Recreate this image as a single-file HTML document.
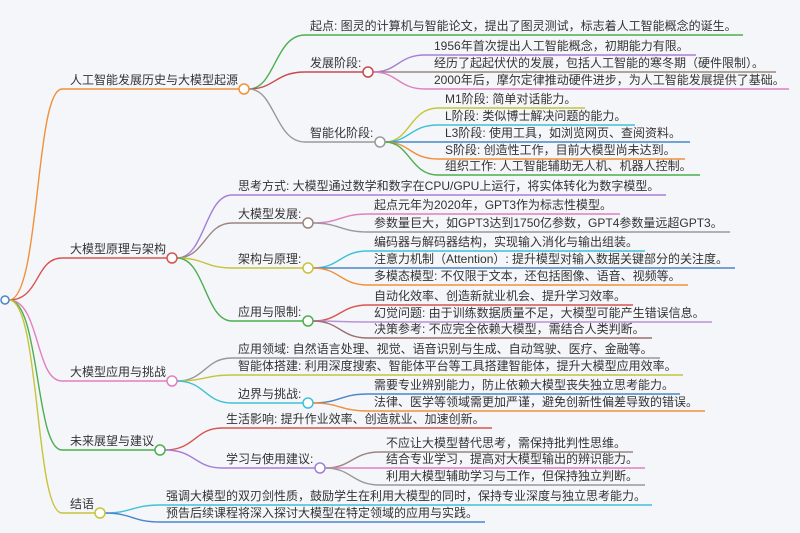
<!DOCTYPE html>
<html><head><meta charset="utf-8"><style>
html,body{margin:0;padding:0;background:#f5f6fa;}
svg{display:block}
text{font-family:"Liberation Sans","Noto Sans CJK SC",sans-serif;font-size:12px;fill:#333;}
path{fill:none;stroke-width:1.4}
circle{fill:#fff;stroke-width:1.5}
</style></head><body>
<svg width="800" height="533" viewBox="0 0 800 533">
<rect width="800" height="533" fill="#f5f6fa"/>
<!-- level1 edges -->
<path d="M9 300 C40 300,35 89,62 89 H239" stroke="#f0903a"/>
<path d="M9 300 C40 300,35 258,62 258 H167" stroke="#d9534f"/>
<path d="M9 300 C40 300,35 381,62 381 H167" stroke="#e27fc0"/>
<path d="M9 300 C40 300,35 450,62 450 H155" stroke="#4caf50"/>
<path d="M9 300 C40 300,35 513,62 513 H95" stroke="#c7c43a"/>
<circle cx="5" cy="300" r="4" stroke="#4a86c8"/>
<text x="70" y="84">人工智能发展历史与大模型起源</text>
<text x="70" y="253">大模型原理与架构</text>
<text x="70" y="376">大模型应用与挑战</text>
<text x="70" y="445">未来展望与建议</text>
<text x="70" y="508">结语</text>

<!-- group1 -->
<path d="M249 89 C275 89,275 35,305 35 H743" stroke="#4caf50"/>
<path d="M249 89 C275 89,275 72,305 72 H363" stroke="#c9494b"/>
<path d="M249 89 C275 89,275 142,305 142 H375" stroke="#999"/>
<text x="310" y="30">起点: 图灵的计算机与智能论文，提出了图灵测试，标志着人工智能概念的诞生。</text>
<text x="310" y="67">发展阶段:</text>
<text x="310" y="137">智能化阶段:</text>
<path d="M373 72 C398 72,398 55,425 55 H696" stroke="#a67ed6"/>
<path d="M373 72 C398 72,398 72,425 72 H776" stroke="#9a8580"/>
<path d="M373 72 C398 72,398 89,425 89 H789" stroke="#e27fc0"/>
<text x="434" y="50">1956年首次提出人工智能概念，初期能力有限。</text>
<text x="434" y="67">经历了起起伏伏的发展，包括人工智能的寒冬期（硬件限制）。</text>
<text x="434" y="84">2000年后，摩尔定律推动硬件进步，为人工智能发展提供了基础。</text>
<path d="M385 142 C410 142,410 108,438 108 H585" stroke="#c7c43a"/>
<path d="M385 142 C410 142,410 125,438 125 H635" stroke="#3fc1d6"/>
<path d="M385 142 C410 142,410 142,438 142 H690" stroke="#4a86c8"/>
<path d="M385 142 C410 142,410 159,438 159 H685" stroke="#f0903a"/>
<path d="M385 142 C410 142,410 175,438 175 H700" stroke="#4caf50"/>
<text x="445" y="103">M1阶段: 简单对话能力。</text>
<text x="445" y="120">L阶段: 类似博士解决问题的能力。</text>
<text x="445" y="137">L3阶段: 使用工具，如浏览网页、查阅资料。</text>
<text x="445" y="154">S阶段: 创造性工作，目前大模型尚未达到。</text>
<text x="445" y="170">组织工作: 人工智能辅助无人机、机器人控制。</text>
<circle cx="244" cy="89" r="5" stroke="#f0903a"/>
<circle cx="368" cy="72" r="5" stroke="#c9494b"/>
<circle cx="380" cy="142" r="5" stroke="#999"/>

<!-- group2 -->
<path d="M177 258 C205 258,205 195,232 195 H666" stroke="#a67ed6"/>
<path d="M177 258 C205 258,205 223,232 223 H303" stroke="#9a8580"/>
<path d="M177 258 C205 258,205 268,232 268 H303" stroke="#c7c43a"/>
<path d="M177 258 C205 258,205 321,232 321 H303" stroke="#4caf50"/>
<text x="238" y="190">思考方式: 大模型通过数学和数字在CPU/GPU上运行，将实体转化为数字模型。</text>
<text x="238" y="218">大模型发展:</text>
<text x="238" y="263">架构与原理:</text>
<text x="238" y="316">应用与限制:</text>
<path d="M313 223 C340 223,340 214,368 214 H620" stroke="#e27fc0"/>
<path d="M313 223 C340 223,340 232,368 232 H730" stroke="#999"/>
<text x="374" y="209">起点元年为2020年，GPT3作为标志性模型。</text>
<text x="374" y="227">参数量巨大，如GPT3达到1750亿参数，GPT4参数量远超GPT3。</text>
<path d="M313 268 C340 268,340 251,368 251 H645" stroke="#3fc1d6"/>
<path d="M313 268 C340 268,340 268,368 268 H735" stroke="#4a86c8"/>
<path d="M313 268 C340 268,340 285,368 285 H688" stroke="#f0903a"/>
<text x="374" y="246">编码器与解码器结构，实现输入消化与输出组装。</text>
<text x="374" y="263">注意力机制（Attention）: 提升模型对输入数据关键部分的关注度。</text>
<text x="374" y="280">多模态模型: 不仅限于文本，还包括图像、语音、视频等。</text>
<path d="M313 321 C340 321,340 305,368 305 H633" stroke="#d9534f"/>
<path d="M313 321 C340 321,340 322,368 322 H712" stroke="#b894d6"/>
<path d="M313 321 C340 321,340 338,368 338 H652" stroke="#9a7070"/>
<text x="374" y="300">自动化效率、创造新就业机会、提升学习效率。</text>
<text x="374" y="317">幻觉问题: 由于训练数据质量不足，大模型可能产生错误信息。</text>
<text x="374" y="333">决策参考: 不应完全依赖大模型，需结合人类判断。</text>
<circle cx="172" cy="258" r="5" stroke="#d9534f"/>
<circle cx="308" cy="223" r="5" stroke="#9a8580"/>
<circle cx="308" cy="268" r="5" stroke="#c7c43a"/>
<circle cx="308" cy="321" r="5" stroke="#4caf50"/>

<!-- group3 -->
<path d="M177 381 C205 381,205 358,232 358 H660" stroke="#999"/>
<path d="M177 381 C205 381,205 375,232 375 H683" stroke="#c7c43a"/>
<path d="M177 381 C205 381,205 403,232 403 H303" stroke="#3fc1d6"/>
<text x="238" y="353">应用领域: 自然语言处理、视觉、语音识别与生成、自动驾驶、医疗、金融等。</text>
<text x="238" y="370">智能体搭建: 利用深度搜索、智能体平台等工具搭建智能体，提升大模型应用效率。</text>
<text x="238" y="398">边界与挑战:</text>
<path d="M313 403 C340 403,340 394,368 394 H680" stroke="#4a86c8"/>
<path d="M313 403 C340 403,340 411,368 411 H705" stroke="#f0903a"/>
<text x="374" y="389">需要专业辨别能力，防止依赖大模型丧失独立思考能力。</text>
<text x="374" y="406">法律、医学等领域需更加严谨，避免创新性偏差导致的错误。</text>
<circle cx="172" cy="381" r="5" stroke="#e27fc0"/>
<circle cx="308" cy="403" r="5" stroke="#3fc1d6"/>

<!-- group4 -->
<path d="M165 450 C195 450,195 428,222 428 H492" stroke="#d9534f"/>
<path d="M165 450 C195 450,195 468,222 468 H315" stroke="#a67ed6"/>
<text x="226" y="423">生活影响: 提升作业效率、创造就业、加速创新。</text>
<text x="226" y="463">学习与使用建议:</text>
<path d="M325 468 C352 468,352 452,380 452 H633" stroke="#9a8580"/>
<path d="M325 468 C352 468,352 468,380 468 H645" stroke="#e27fc0"/>
<path d="M325 468 C352 468,352 485,380 485 H645" stroke="#999"/>
<text x="386" y="447">不应让大模型替代思考，需保持批判性思维。</text>
<text x="386" y="463">结合专业学习，提高对大模型输出的辨识能力。</text>
<text x="386" y="480">利用大模型辅助学习与工作，但保持独立判断。</text>
<circle cx="160" cy="450" r="5" stroke="#4caf50"/>
<circle cx="320" cy="468" r="5" stroke="#a67ed6"/>

<!-- group5 -->
<path d="M105 513 C132 513,132 505,160 505 H652" stroke="#3fc1d6"/>
<path d="M105 513 C132 513,132 522,160 522 H485" stroke="#4a86c8"/>
<text x="166" y="500">强调大模型的双刃剑性质，鼓励学生在利用大模型的同时，保持专业深度与独立思考能力。</text>
<text x="166" y="517">预告后续课程将深入探讨大模型在特定领域的应用与实践。</text>
<circle cx="100" cy="513" r="5" stroke="#c7c43a"/>
</svg>
</body></html>
